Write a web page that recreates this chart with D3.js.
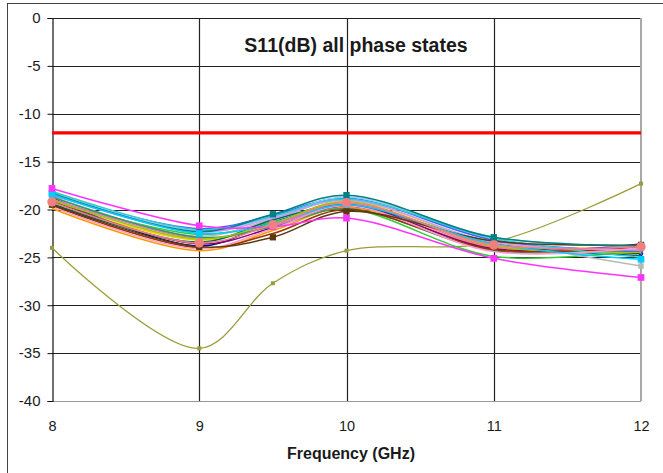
<!DOCTYPE html>
<html>
<head>
<meta charset="utf-8">
<script src="https://cdn.jsdelivr.net/npm/d3@7"></script>
<style>
  html, body { margin: 0; padding: 0; background: #fff; }
  svg { display: block; }
  text { font-family: "Liberation Sans", Arial, sans-serif; fill: #1a1a1a; }
</style>
</head>
<body>
<svg id="chart" width="663" height="473"></svg>
<script>
// ---- data ----
const freqs = [8, 9, 9.5, 10, 11, 12];
const xTicks = [8, 9, 10, 11, 12];
const yTicks = [0, -5, -10, -15, -20, -25, -30, -35, -40];
const limitValue = -12;
const titleText = "S11(dB) all phase states";
const xLabel = "Frequency (GHz)";

const olive     = [-24.0, -34.5, -27.7, -24.3, -23.4, -17.3];
const darkBlue  = [-18.8, -23.8, -21.3, -19.7, -23.4, -24.6];
const yellow    = [-19.3, -23.2, -21.5, -19.1, -23.5, -24.0];
const green     = [-19.0, -22.6, -21.3, -19.9, -24.9, -24.2];
const greyS     = [-18.6, -22.8, -21.0, -19.0, -23.1, -25.9];
const orange    = [-19.9, -24.3, -22.2, -19.8, -24.0, -24.3];
const blue      = [-18.5, -22.0, -20.6, -18.8, -23.2, -24.4];
const purple    = [-19.1, -23.6, -21.9, -19.6, -24.1, -23.6];
const pink      = [-18.9, -23.0, -21.7, -19.4, -23.9, -24.0];
const seaGreen  = [-18.7, -22.9, -21.8, -19.9, -24.3, -24.1];
const lightBlue = [-18.2, -22.2, -20.8, -18.7, -22.9, -23.9];
const darkTeal  = [-19.4, -23.4, -21.1, -19.5, -23.6, -24.8];
const lime      = [-19.0, -23.1, -21.4, -19.2, -23.8, -24.5];
const darkRed   = [-19.6, -24.0, -22.5, -20.0, -24.2, -23.9];
const lavender  = [-18.4, -22.4, -20.9, -19.0, -23.4, -24.2];
const turquoise = [-18.1, -22.1, -20.7, -18.9, -23.0, -25.0];
const rose      = [-19.7, -24.1, -22.0, -19.6, -24.4, -24.0];
const brown     = [-19.5, -23.9, -22.9, -20.2, -23.3, -23.7];
const teal      = [-18.3, -22.3, -20.5, -18.5, -22.9, -23.8];
const cyan      = [-18.4, -22.5, -21.5, -19.5, -23.6, -25.2];
const magenta   = [-17.8, -21.7, -21.8, -20.9, -25.1, -27.1];
const salmon    = [-19.2, -23.5, -21.6, -19.3, -23.7, -23.9];

const seriesValues = [olive, darkBlue, yellow, green, greyS, orange, blue, purple, pink, seaGreen,
  lightBlue, darkTeal, lime, darkRed, lavender, turquoise, rose, brown, teal, cyan, magenta, salmon];
const seriesColors = ["#9C9C3C", "#000080", "#FFCC00", "#33CC33", "#B8B8B8", "#FF9900", "#3366FF", "#800080",
  "#FF66CC", "#339966", "#99CCFF", "#006666", "#99CC00", "#993300", "#CC99FF", "#33CCCC", "#FF99CC",
  "#5C3A10", "#008080", "#00CCFF", "#FF33FF", "#F08080"];
const seriesMarkers = ["square", "diamond", "triangle", "none", "square", "none", "diamond", "none",
  "none", "none", "none", "none", "none", "none", "none", "none", "none",
  "square", "square", "square", "square", "circle"];
const markerSizes = [16, 20, 20, 0, 30, 0, 20, 0, 0, 0, 0, 0, 0, 0, 0, 0, 0, 40, 40, 45, 45, 70];

// ---- layout ----
const svg = d3.select("#chart");
const plot = { left: 52, right: 641, top: 18, bottom: 401 };

const x = d3.scaleLinear().domain([8, 12]).range([plot.left, plot.right]);
const y = d3.scaleLinear().domain([-40, 0]).range([plot.bottom, plot.top]);

// outer frame
svg.append("rect").attr("x", 7.5).attr("y", 3.5).attr("width", 680).attr("height", 500)
  .attr("fill", "#fff").attr("stroke", "#444").attr("stroke-width", 1);

// plot area background
svg.append("rect").attr("x", plot.left).attr("y", plot.top)
  .attr("width", plot.right - plot.left).attr("height", plot.bottom - plot.top)
  .attr("fill", "#fff");

// horizontal gridlines
svg.append("g").selectAll("line").data(yTicks.filter(d => d > -40)).join("line")
  .attr("x1", plot.left).attr("x2", plot.right)
  .attr("y1", d => Math.round(y(d)) + 0.5).attr("y2", d => Math.round(y(d)) + 0.5)
  .attr("stroke", "#222").attr("stroke-width", 1.2);

// vertical gridlines
svg.append("g").selectAll("line").data(xTicks.filter(d => d > 8 && d < 12)).join("line")
  .attr("x1", d => Math.round(x(d)) + 0.5).attr("x2", d => Math.round(x(d)) + 0.5)
  .attr("y1", plot.top).attr("y2", plot.bottom)
  .attr("stroke", "#222").attr("stroke-width", 1.2);

// plot border right & bottom (grey)
svg.append("line").attr("x1", plot.right).attr("x2", plot.right)
  .attr("y1", plot.top).attr("y2", plot.bottom)
  .attr("stroke", "#a8a8a8").attr("stroke-width", 2);
svg.append("line").attr("x1", plot.left).attr("x2", plot.right)
  .attr("y1", plot.bottom + 0.5).attr("y2", plot.bottom + 0.5)
  .attr("stroke", "#999").attr("stroke-width", 1);

// y axis
const yAxis = d3.axisLeft(y).tickValues(yTicks).tickSize(5).tickPadding(7).tickFormat(d3.format("d"));
const gy = svg.append("g").attr("transform", `translate(${plot.left + 0.5},0)`).call(yAxis);
gy.select(".domain").attr("stroke", "#111").attr("stroke-width", 1.2);
gy.selectAll(".tick line").attr("stroke", "#111");
gy.selectAll(".tick text").attr("font-size", 15).attr("fill", "#1a1a1a")
  .attr("font-family", "'Liberation Sans', Arial, sans-serif").text(d => d === 0 ? "0" : String(d));

// x axis labels
const xAxis = d3.axisBottom(x).tickValues(xTicks).tickSize(0).tickPadding(20).tickFormat(d3.format("d"));
const gx = svg.append("g").attr("transform", `translate(0,${plot.bottom})`).call(xAxis);
gx.select(".domain").remove();
gx.selectAll(".tick text").attr("font-size", 14.5).attr("fill", "#1a1a1a")
  .attr("font-family", "'Liberation Sans', Arial, sans-serif");

// limit line
svg.append("line").attr("x1", x(8)).attr("x2", x(12))
  .attr("y1", y(limitValue)).attr("y2", y(limitValue))
  .attr("stroke", "#FF0000").attr("stroke-width", 3.2);

// series
const line = d3.line().x((d, i) => x(freqs[i])).y(d => y(d)).curve(d3.curveCatmullRom.alpha(0.5));
const symbolTypes = { square: d3.symbolSquare, diamond: d3.symbolDiamond, triangle: d3.symbolTriangle, circle: d3.symbolCircle };

const gs = svg.append("g");
seriesValues.forEach((vals, si) => {
  const g = gs.append("g");
  g.append("path").attr("d", line(vals)).attr("fill", "none")
    .attr("stroke", seriesColors[si]).attr("stroke-width", si === 0 ? 1.3 : 1.5);
  const m = seriesMarkers[si];
  if (m !== "none") {
    g.selectAll("path.mk").data(vals).join("path").attr("class", "mk")
      .attr("transform", (d, i) => `translate(${x(freqs[i])},${y(d)})`)
      .attr("d", d3.symbol().type(symbolTypes[m]).size(markerSizes[si]))
      .attr("fill", seriesColors[si]);
  }
});

// title
svg.append("text").attr("x", 356).attr("y", 52).attr("text-anchor", "middle")
  .attr("font-size", 19.5).attr("font-weight", "bold").text(titleText);

// x label
svg.append("text").attr("x", 351).attr("y", 459).attr("text-anchor", "middle")
  .attr("font-size", 16).attr("font-weight", "bold").text(xLabel);
</script>
</body>
</html>
